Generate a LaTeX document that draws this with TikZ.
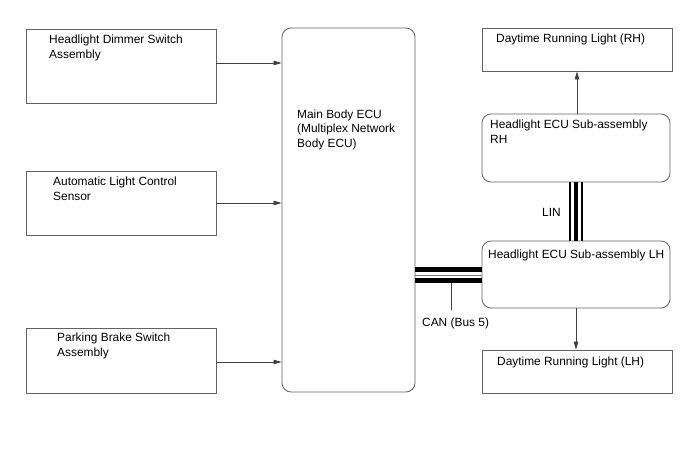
\documentclass[tikz,border=0pt]{standalone}
\usepackage{fontspec}
\setmainfont{Liberation Sans}
\usetikzlibrary{arrows.meta}
\tikzset{
  box/.style={draw=black!62, line width=0.8pt, inner sep=0pt, fill=white},
  rbox/.style={box, rounded corners=9pt},
  txt/.style={inner sep=0pt, anchor=north west, align=left, font=\fontsize{11.9}{15}\selectfont},
  arr/.style={draw=black!75, line width=0.7pt, -{Triangle[length=8pt,width=4.5pt]}},
  wire/.style={draw=black!75, line width=0.7pt},
}
\begin{document}
\begin{tikzpicture}[x=1pt,y=-1pt]
\useasboundingbox (0,0) rectangle (688,463);
% boxes
\node[box, minimum width=190pt, minimum height=74pt] (dim) at (121,66) {};
\node[box, minimum width=190pt, minimum height=64pt] (auto) at (121,203) {};
\node[box, minimum width=190pt, minimum height=65pt] (park) at (121,360.5) {};
\node[rbox, minimum width=133pt, minimum height=364pt] (main) at (348.5,210) {};
\node[box, minimum width=190pt, minimum height=43pt] (drlrh) at (577,49.5) {};
\node[rbox, minimum width=188pt, minimum height=68pt] (hlrh) at (576,148) {};
\node[rbox, minimum width=188pt, minimum height=67pt] (hllh) at (576,274.5) {};
\node[box, minimum width=190pt, minimum height=43pt] (drllh) at (577,371.5) {};
% texts
\node[txt] (dimt) at (49,34.5) {Headlight Dimmer Switch\\Assembly};
\node[txt] (autot) at (53,176.5) {Automatic Light Control\\Sensor};
\node[txt] (parkt) at (57,332.5) {Parking Brake Switch\\Assembly};
\node[txt, font=\fontsize{11.9}{14.5}\selectfont] (maint) at (297,109.5) {Main Body ECU\\(Multiplex Network\\Body ECU)};
\node[txt] (drlrht) at (496,33.5) {Daytime Running Light (RH)};
\node[txt] (hlrht) at (490,119.5) {Headlight ECU Sub-assembly\\RH};
\node[txt] (hllht) at (488,249.5) {Headlight ECU Sub-assembly LH};
\node[txt] (drllht) at (497,356.5) {Daytime Running Light (LH)};
\node[txt] (cant) at (422,317.5) {CAN (Bus 5)};
\node[txt] (lint) at (542,208.5) {LIN};
% input arrows
\draw[arr] ([yshift=3pt]dim.east) -- ([yshift=3pt]dim.east -| main.west);
\draw[arr] (auto.east) -- (auto.east -| main.west);
\draw[arr] ([yshift=-1.5pt]park.east) -- ([yshift=-1.5pt]park.east -| main.west);
% output arrows
\draw[arr] (hlrh.north -| drlrh.south) -- (drlrh.south);
\draw[arr] (hllh.south) -- (hllh.south |- drllh.north);
% CAN bus
\coordinate (canA) at (main.east |- 0,269.5);
\coordinate (canB) at (main.east |- 0,280.5);
\coordinate (canC) at (main.east |- 0,275);
\draw[line width=5pt] (canA) -- (canA -| hllh.west);
\draw[line width=5pt] (canB) -- (canB -| hllh.west);
\draw[line width=0.5pt, black!55] (canC) -- (canC -| hllh.west);
\coordinate (canS) at (451,283);
\draw[wire] (canS) -- (451,310);
% LIN bus
\coordinate (linM) at (576,0);
\draw[line width=4pt] (hlrh.south -| linM) -- (hllh.north -| linM);
\draw[line width=2pt] ([xshift=-6pt]hlrh.south -| linM) -- ([xshift=-6pt]hllh.north -| linM);
\draw[line width=2pt] ([xshift=6pt]hlrh.south -| linM) -- ([xshift=6pt]hllh.north -| linM);
\end{tikzpicture}
\end{document}
